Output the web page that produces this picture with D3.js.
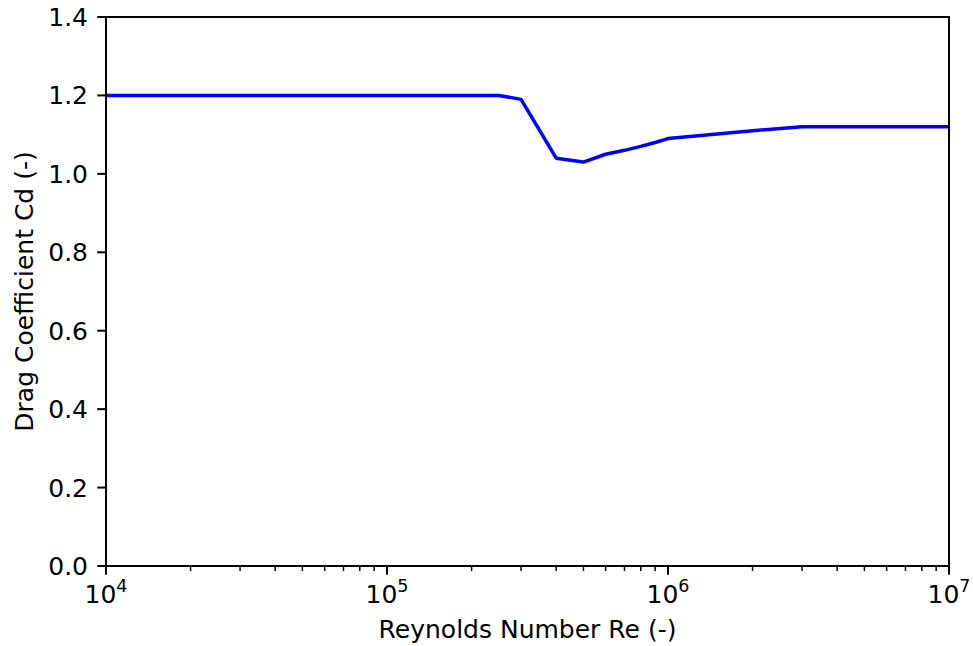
<!DOCTYPE html>
<html>
<head>
<meta charset="utf-8">
<script src="https://cdn.jsdelivr.net/npm/d3@7"></script>
<style>
  html, body { margin: 0; padding: 0; background: #fff; }
  svg { display: block; font-family: "DejaVu Sans", sans-serif; }
</style>
</head>
<body>
<svg id="chart" width="973" height="646"></svg>
<script>
// Drag coefficient versus Reynolds number
const reynolds = [1e4, 2.5e5, 3e5, 4e5, 5e5, 6e5, 7e5, 8e5, 9e5, 1e6, 2e6, 3e6, 1e7];
const dragCoef = [1.20, 1.20, 1.19, 1.04, 1.03, 1.05, 1.06, 1.07, 1.08, 1.09, 1.11, 1.12, 1.12];
const yTicks = [0.0, 0.2, 0.4, 0.6, 0.8, 1.0, 1.2, 1.4];
const xMajorExp = [4, 5, 6, 7];

const svg = d3.select("#chart");
const m = { left: 106, right: 949, top: 17, bottom: 566 };
const fs = 25;

const x = d3.scaleLog().domain([1e4, 1e7]).range([m.left, m.right]);
const y = d3.scaleLinear().domain([0, 1.4]).range([m.bottom, m.top]);

// minor ticks
const minor = [];
for (let e = 4; e < 7; e++) for (let k = 2; k <= 9; k++) minor.push(k * Math.pow(10, e));

const gx = svg.append("g").attr("transform", `translate(0,${m.bottom})`);
gx.selectAll("line.minor").data(minor).join("line")
  .attr("x1", d => x(d)).attr("x2", d => x(d))
  .attr("y1", 0).attr("y2", 5)
  .attr("stroke", "#000").attr("stroke-width", 1.5);
gx.selectAll("line.major").data(xMajorExp).join("line")
  .attr("x1", d => x(Math.pow(10, d))).attr("x2", d => x(Math.pow(10, d)))
  .attr("y1", 0).attr("y2", 8.75)
  .attr("stroke", "#000").attr("stroke-width", 2);
const xl = gx.selectAll("text").data(xMajorExp).join("text")
  .attr("x", d => x(Math.pow(10, d)))
  .attr("y", 37)
  .attr("text-anchor", "middle")
  .attr("font-size", fs)
  .attr("fill", "#000");
xl.append("tspan").text("10");
xl.append("tspan").attr("dy", -11).attr("font-size", fs * 0.7).text(d => d);

const gy = svg.append("g").attr("transform", `translate(${m.left},0)`);
gy.selectAll("line").data(yTicks).join("line")
  .attr("x1", -8.75).attr("x2", 0)
  .attr("y1", d => y(d)).attr("y2", d => y(d))
  .attr("stroke", "#000").attr("stroke-width", 2);
gy.selectAll("text").data(yTicks).join("text")
  .attr("x", -18)
  .attr("y", d => y(d))
  .attr("dy", "0.36em")
  .attr("text-anchor", "end")
  .attr("font-size", fs)
  .attr("fill", "#000")
  .text(d => d.toFixed(1));

// data line
const line = d3.line().x((d, i) => x(reynolds[i])).y(d => y(d));
svg.append("path")
  .datum(dragCoef)
  .attr("d", line)
  .attr("fill", "none")
  .attr("stroke", "#0000ff")
  .attr("stroke-width", 3.5)
  .attr("stroke-linejoin", "round")
  .attr("stroke-linecap", "butt");

// frame
svg.append("rect")
  .attr("x", m.left).attr("y", m.top)
  .attr("width", m.right - m.left).attr("height", m.bottom - m.top)
  .attr("fill", "none").attr("stroke", "#000").attr("stroke-width", 2);

// axis titles
svg.append("text")
  .attr("x", (m.left + m.right) / 2).attr("y", 638)
  .attr("text-anchor", "middle").attr("font-size", fs)
  .text("Reynolds Number Re (-)");
svg.append("text")
  .attr("transform", `translate(33,${(m.top + m.bottom) / 2}) rotate(-90)`)
  .attr("text-anchor", "middle").attr("font-size", fs)
  .text("Drag Coefficient Cd (-)");
</script>
</body>
</html>
